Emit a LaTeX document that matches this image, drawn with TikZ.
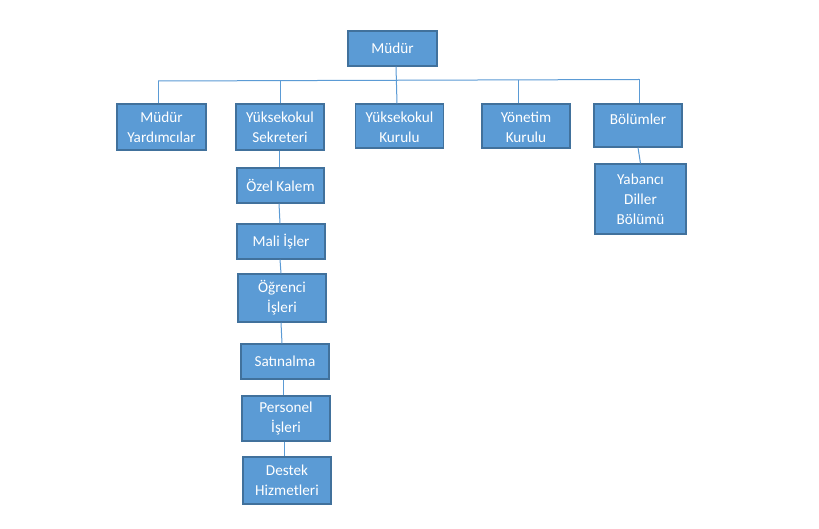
\documentclass[tikz,border=0pt]{standalone}
\usepackage{fontspec}
\setmainfont{Carlito}
\definecolor{boxfill}{HTML}{5B9BD5}
\definecolor{boxline}{HTML}{41719C}
\definecolor{conn}{HTML}{5B9BD5}
\tikzset{
  orgbox/.style={draw=boxline, line width=1.1pt, fill=boxfill, text=white,
    align=center, inner sep=0pt, font=\fontsize{15.2}{20}\selectfont},
  orgtext/.style={text=white, align=center, inner sep=0pt, font=\fontsize{15.2}{20}\selectfont},
  conline/.style={draw=conn, line width=1pt}
}
\begin{document}
\begin{tikzpicture}[x=1pt,y=-1pt]
\useasboundingbox[fill=white] (0,0) rectangle (819,529);
% top level
\node[orgbox, minimum width=89pt, minimum height=35pt] (mudur) at (392.5,48.5) {Müdür};
\node[orgbox, minimum width=89pt, minimum height=46pt] (myard) at (161.5,127) {Müdür\\Yardımcılar};
\node[orgbox, minimum width=88pt, minimum height=46pt] (ysek) at (280,127) {Yüksekokul\\Sekreteri};
\node[orgbox, minimum width=88pt, minimum height=44pt] (ykur) at (399.5,126) {};
\node[orgtext] (ykurt) at ([yshift=-1.5pt]ykur.center) {Yüksekokul\\Kurulu};
\node[orgbox, minimum width=88pt, minimum height=44pt] (yon) at (526,126) {};
\node[orgtext] (yont) at ([yshift=-1.5pt]yon.center) {Yönetim\\Kurulu};
\node[orgbox, minimum width=88pt, minimum height=43pt, text depth=12pt] (bol) at (638,125.5) {Bölümler};
\node[orgbox, minimum width=91pt, minimum height=70pt] (yab) at (640.5,199) {Yabancı\\Diller\\Bölümü};
% secretary chain
\node[orgbox, minimum width=87pt, minimum height=35pt] (ozel) at (280.5,185.5) {Özel Kalem};
\node[orgbox, minimum width=88pt, minimum height=35pt] (mali) at (281,241.5) {Mali İşler};
\node[orgbox, minimum width=88pt, minimum height=48pt] (ogr) at (282,298) {Öğrenci\\İşleri};
\node[orgbox, minimum width=88pt, minimum height=35pt] (sat) at (285,361.5) {Satınalma};
\node[orgbox, minimum width=88pt, minimum height=45pt] (per) at (286,418.5) {Personel\\İşleri};
\node[orgbox, minimum width=88pt, minimum height=47pt] (des) at (287,480.5) {Destek\\Hizmetleri};
% bus
\coordinate (busL) at (158,81);
\coordinate (busR) at (639,79.5);
\draw[conline] (busL) -- (busR);
\coordinate (b1) at (158,81);
\coordinate (b2) at (280,80.6);
\coordinate (b4) at (518,79.8);
\coordinate (b5) at (639,79.5);
\draw[conline] ([xshift=3.5pt]mudur.south) -- ([xshift=-2.5pt]ykur.north);
\draw[conline] (b1) -- (myard.north -| b1);
\draw[conline] (b2) -- (ysek.north);
\draw[conline] (b4) -- (yon.north -| b4);
\draw[conline] (b5) -- (bol.north -| b5);
\draw[conline] (bol.south) -- (yab.north);
% chain connectors
\draw[conline] ([xshift=-1pt]ysek.south) -- ([xshift=-1.5pt]ozel.north);
\draw[conline] ([xshift=-1.5pt]ozel.south) -- ([xshift=-1pt]mali.north);
\draw[conline] ([xshift=-1pt]mali.south) -- ([xshift=-1pt]ogr.north);
\draw[conline] ([xshift=-1pt]ogr.south) -- ([xshift=-3pt]sat.north);
\draw[conline] ([xshift=-2pt]sat.south) -- ([xshift=-3pt]per.north);
\draw[conline] ([xshift=-2pt]per.south) -- ([xshift=-3pt]des.north);
\end{tikzpicture}
\end{document}
